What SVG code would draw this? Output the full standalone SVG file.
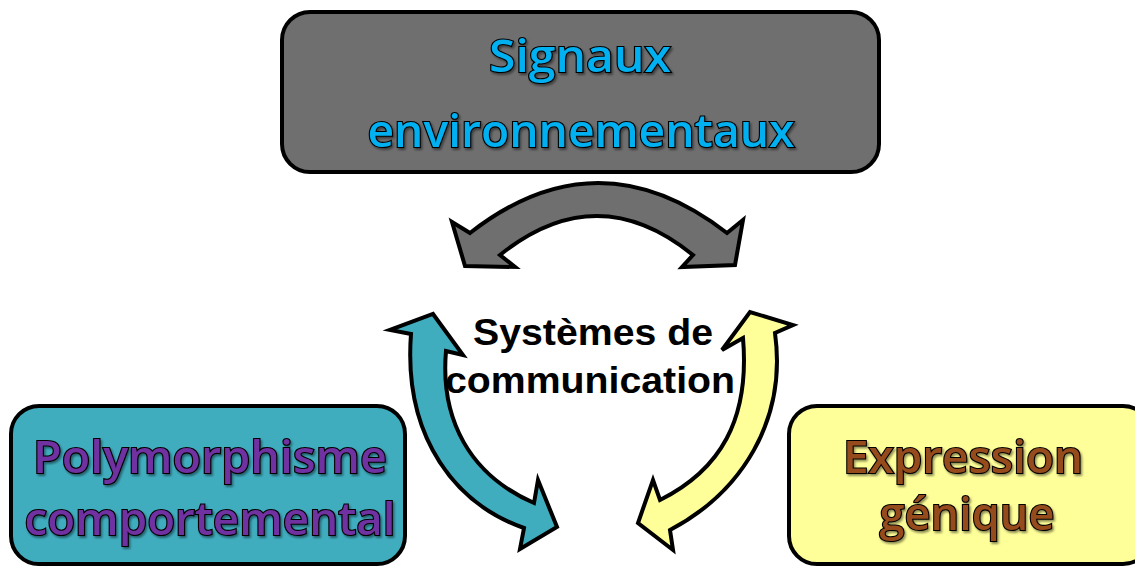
<svg xmlns="http://www.w3.org/2000/svg" width="1135" height="567" viewBox="0 0 1135 567">
<defs>
<filter id="sh" x="-10%" y="-10%" width="120%" height="130%">
<feDropShadow dx="1.5" dy="2" stdDeviation="1.2" flood-color="#000" flood-opacity="0.45"/>
</filter>
<style>
.box{stroke:#000;stroke-width:4}
.arr{stroke:#000;stroke-width:4;stroke-linejoin:miter}
.lbl{font-family:"Open Sans","Noto Sans",sans-serif;font-weight:600;font-size:46px;text-anchor:middle;stroke:#000;stroke-width:2.2;paint-order:stroke;filter:url(#sh)}
.ctr{font-family:"Liberation Sans",Arial,sans-serif;font-weight:bold;font-size:37px;fill:#000;text-anchor:middle}
</style>
</defs>
<g id="connectors">
<path id="arrow-top" class="arr" fill="#6f6f6f" d="M 452,222 L 470,233 Q 598,133 727,233 L 743,220 L 735,265 L 682,267 L 693,255 Q 597,177 500,255 L 515,267 L 465,266 Z"/>
<path id="arrow-left" class="arr" fill="#40adbf" d="M 411,334 L 390,330 L 433,314 L 463,355 L 446,351 C 440,420 470,475 534,503 L 538,480 L 557,527 L 520,549 L 524,528 C 458,505 403,440 411,334 Z"/>
<path id="arrow-right" class="arr" fill="#ffff99" d="M 743,338 L 722,350 L 750,312 L 793,325 L 775,333 C 787,420 742,492 670,530 L 673,550 L 638,523 L 653,480 L 660,500 C 720,470 750,420 743,338 Z"/>
</g>
<g id="node-signaux">
<rect class="box" x="282" y="12" width="597" height="160" rx="28" fill="#6f6f6f"/>
<text class="lbl" fill="#00b0f0" x="580" y="72" textLength="182" lengthAdjust="spacingAndGlyphs">Signaux</text>
<text class="lbl" fill="#00b0f0" x="581" y="147" textLength="427" lengthAdjust="spacingAndGlyphs">environnementaux</text>
</g>
<g id="node-polymorphisme">
<rect class="box" x="11" y="406" width="394" height="158" rx="28" fill="#40adbf"/>
<text class="lbl" fill="#7030a0" x="210" y="473" textLength="354" lengthAdjust="spacingAndGlyphs">Polymorphisme</text>
<text class="lbl" fill="#7030a0" x="210" y="535" textLength="371" lengthAdjust="spacingAndGlyphs">comportemental</text>
</g>
<g id="node-expression">
<rect class="box" x="789" y="406" width="362" height="158" rx="28" fill="#ffff99"/>
<text class="lbl" fill="#964b1e" x="963" y="473" textLength="240" lengthAdjust="spacingAndGlyphs">Expression</text>
<text class="lbl" fill="#964b1e" x="967" y="530" textLength="175" lengthAdjust="spacingAndGlyphs">génique</text>
</g>
<g id="label-center">
<text class="ctr" x="593" y="345" textLength="240" lengthAdjust="spacingAndGlyphs">Systèmes de</text>
<text class="ctr" x="590" y="393" textLength="290" lengthAdjust="spacingAndGlyphs">communication</text>
</g>
</svg>
